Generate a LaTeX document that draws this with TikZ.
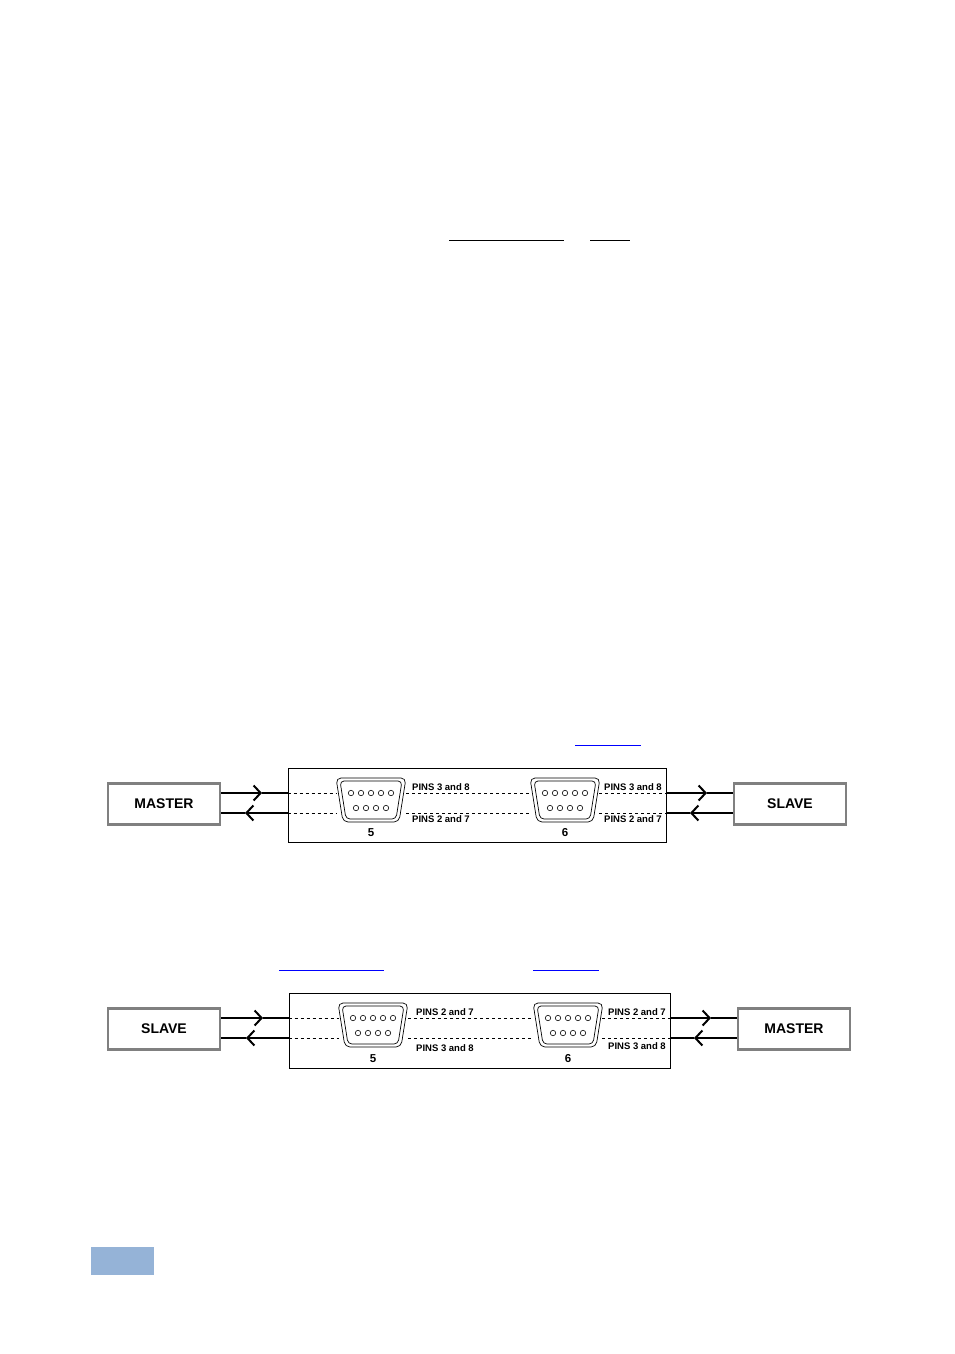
\documentclass[tikz,border=0pt]{standalone}
\usepackage{fontspec}
\setmainfont{Liberation Sans}
\usetikzlibrary{arrows.meta,positioning}
\definecolor{boxgray}{RGB}{128,128,128}
\definecolor{linkblue}{RGB}{0,0,255}
\definecolor{tabblue}{RGB}{149,179,215}

\tikzset{
    unitbox/.style={rectangle, draw=boxgray, line width=2.4pt, minimum width=112pt, minimum height=41pt,
                    font=\fontsize{14}{16}\selectfont\bfseries},
    panel/.style={rectangle, draw, line width=0.6pt},
    pinlabel/.style={font=\fontsize{9.5}{11}\selectfont\bfseries, anchor=west, inner sep=1pt},
    portnum/.style={font=\fontsize{11.5}{13}\selectfont\bfseries, inner sep=1pt},
    dashline/.style={dashed, dash pattern=on 3pt off 3pt, line width=0.6pt},
    wire/.style={line width=1.4pt},
    chev/.style={-{Straight Barb[length=7pt,width=15pt,line width=2pt]}, line width=1.4pt},
    link/.style={linkblue, line width=0.7pt}
}

% D-sub connector centred at #1
\newcommand{\dsub}[1]{%
  \begin{scope}[shift={#1}]
    \draw[rounded corners=5pt, line width=0.7pt] (-35,-22) -- (35,-22) -- (28,22) -- (-28,22) -- cycle;
    \draw[rounded corners=4pt, line width=0.7pt] (-31,-19) -- (31,-19) -- (25,19) -- (-25,19) -- cycle;
    \foreach \i in {-2,...,2} \draw[line width=0.6pt] (\i*10,-7) circle (2.7);
    \foreach \i in {-1.5,-0.5,0.5,1.5} \draw[line width=0.6pt] (\i*10,8) circle (2.7);
  \end{scope}}

\begin{document}
\begin{tikzpicture}[x=1pt,y=-1pt]
\useasboundingbox (0,0) rectangle (954,1354);

% underlines of the text
\draw[line width=0.7pt] (449,240) -- (564,240);
\draw[line width=0.7pt] (590,240) -- (630,240);
\draw[link] (575,745) -- (641,745);
\draw[link] (279,970) -- (384,970);
\draw[link] (533,970) -- (599,970);
\fill[tabblue] (91,1247) rectangle (154,1275);

% first set-up
\node[unitbox] (master1) at (164,804) {MASTER};
\node[unitbox] (slave1) at (790,804) {SLAVE};
\node[panel, minimum width=378pt, minimum height=74pt] (panel1) at (477,805) {};
\coordinate (pa1) at (371,800);
\coordinate (pb1) at (565,800);
\draw[dashline] (panel1.west |- 0,793) -- (337,793);
\draw[dashline] (panel1.west |- 0,813) -- (337,813);
\draw[dashline] (406,793) -- (530,793);
\draw[dashline] (406,813) -- (530,813);
\draw[dashline] (599,793) -- (panel1.east |- 0,793);
\draw[dashline] (599,813) -- (panel1.east |- 0,813);
\dsub{(pa1)}
\dsub{(pb1)}
\node[pinlabel] (la1) at (411,787) {PINS 3 and 8};
\node[pinlabel] (lb1) at (411,819) {PINS 2 and 7};
\node[pinlabel] (lc1) at (603,787) {PINS 3 and 8};
\node[pinlabel] (ld1) at (603,819) {PINS 2 and 7};
\node[portnum] (n5a) at (371,833) {5};
\node[portnum] (n6a) at (565,833) {6};
\coordinate (ma1) at (262,793);
\coordinate (mb1) at (245,813);
\coordinate (sa1) at (707,793);
\coordinate (sb1) at (690,813);
\draw[wire, chev] (master1.east |- ma1) -- (ma1);
\draw[wire] (ma1) -- (panel1.west |- ma1);
\draw[wire, chev] (panel1.west |- mb1) -- (mb1);
\draw[wire] (mb1) -- (master1.east |- mb1);
\draw[wire, chev] (panel1.east |- sa1) -- (sa1);
\draw[wire] (sa1) -- (slave1.west |- sa1);
\draw[wire, chev] (slave1.west |- sb1) -- (sb1);
\draw[wire] (sb1) -- (panel1.east |- sb1);

% second set-up
\node[unitbox] (slave2) at (164,1029) {SLAVE};
\node[unitbox] (master2) at (794,1029) {MASTER};
\node[panel, minimum width=381pt, minimum height=75pt] (panel2) at (479.5,1030.5) {};
\coordinate (pa2) at (373,1025);
\coordinate (pb2) at (568,1025);
\draw[dashline] (panel2.west |- 0,1018) -- (339,1018);
\draw[dashline] (panel2.west |- 0,1038) -- (339,1038);
\draw[dashline] (408,1018) -- (533,1018);
\draw[dashline] (408,1038) -- (533,1038);
\draw[dashline] (602,1018) -- (panel2.east |- 0,1018);
\draw[dashline] (602,1038) -- (panel2.east |- 0,1038);
\dsub{(pa2)}
\dsub{(pb2)}
\node[pinlabel] (la2) at (415,1012) {PINS 2 and 7};
\node[pinlabel] (lb2) at (415,1048) {PINS 3 and 8};
\node[pinlabel] (lc2) at (607,1012) {PINS 2 and 7};
\node[pinlabel] (ld2) at (607,1046) {PINS 3 and 8};
\node[portnum] (n5b) at (373,1059) {5};
\node[portnum] (n6b) at (568,1059) {6};
\coordinate (ma2) at (263,1018);
\coordinate (mb2) at (246,1038);
\coordinate (sa2) at (711,1018);
\coordinate (sb2) at (694,1038);
\draw[wire, chev] (slave2.east |- ma2) -- (ma2);
\draw[wire] (ma2) -- (panel2.west |- ma2);
\draw[wire, chev] (panel2.west |- mb2) -- (mb2);
\draw[wire] (mb2) -- (slave2.east |- mb2);
\draw[wire, chev] (panel2.east |- sa2) -- (sa2);
\draw[wire] (sa2) -- (master2.west |- sa2);
\draw[wire, chev] (master2.west |- sb2) -- (sb2);
\draw[wire] (sb2) -- (panel2.east |- sb2);
\end{tikzpicture}
\end{document}
